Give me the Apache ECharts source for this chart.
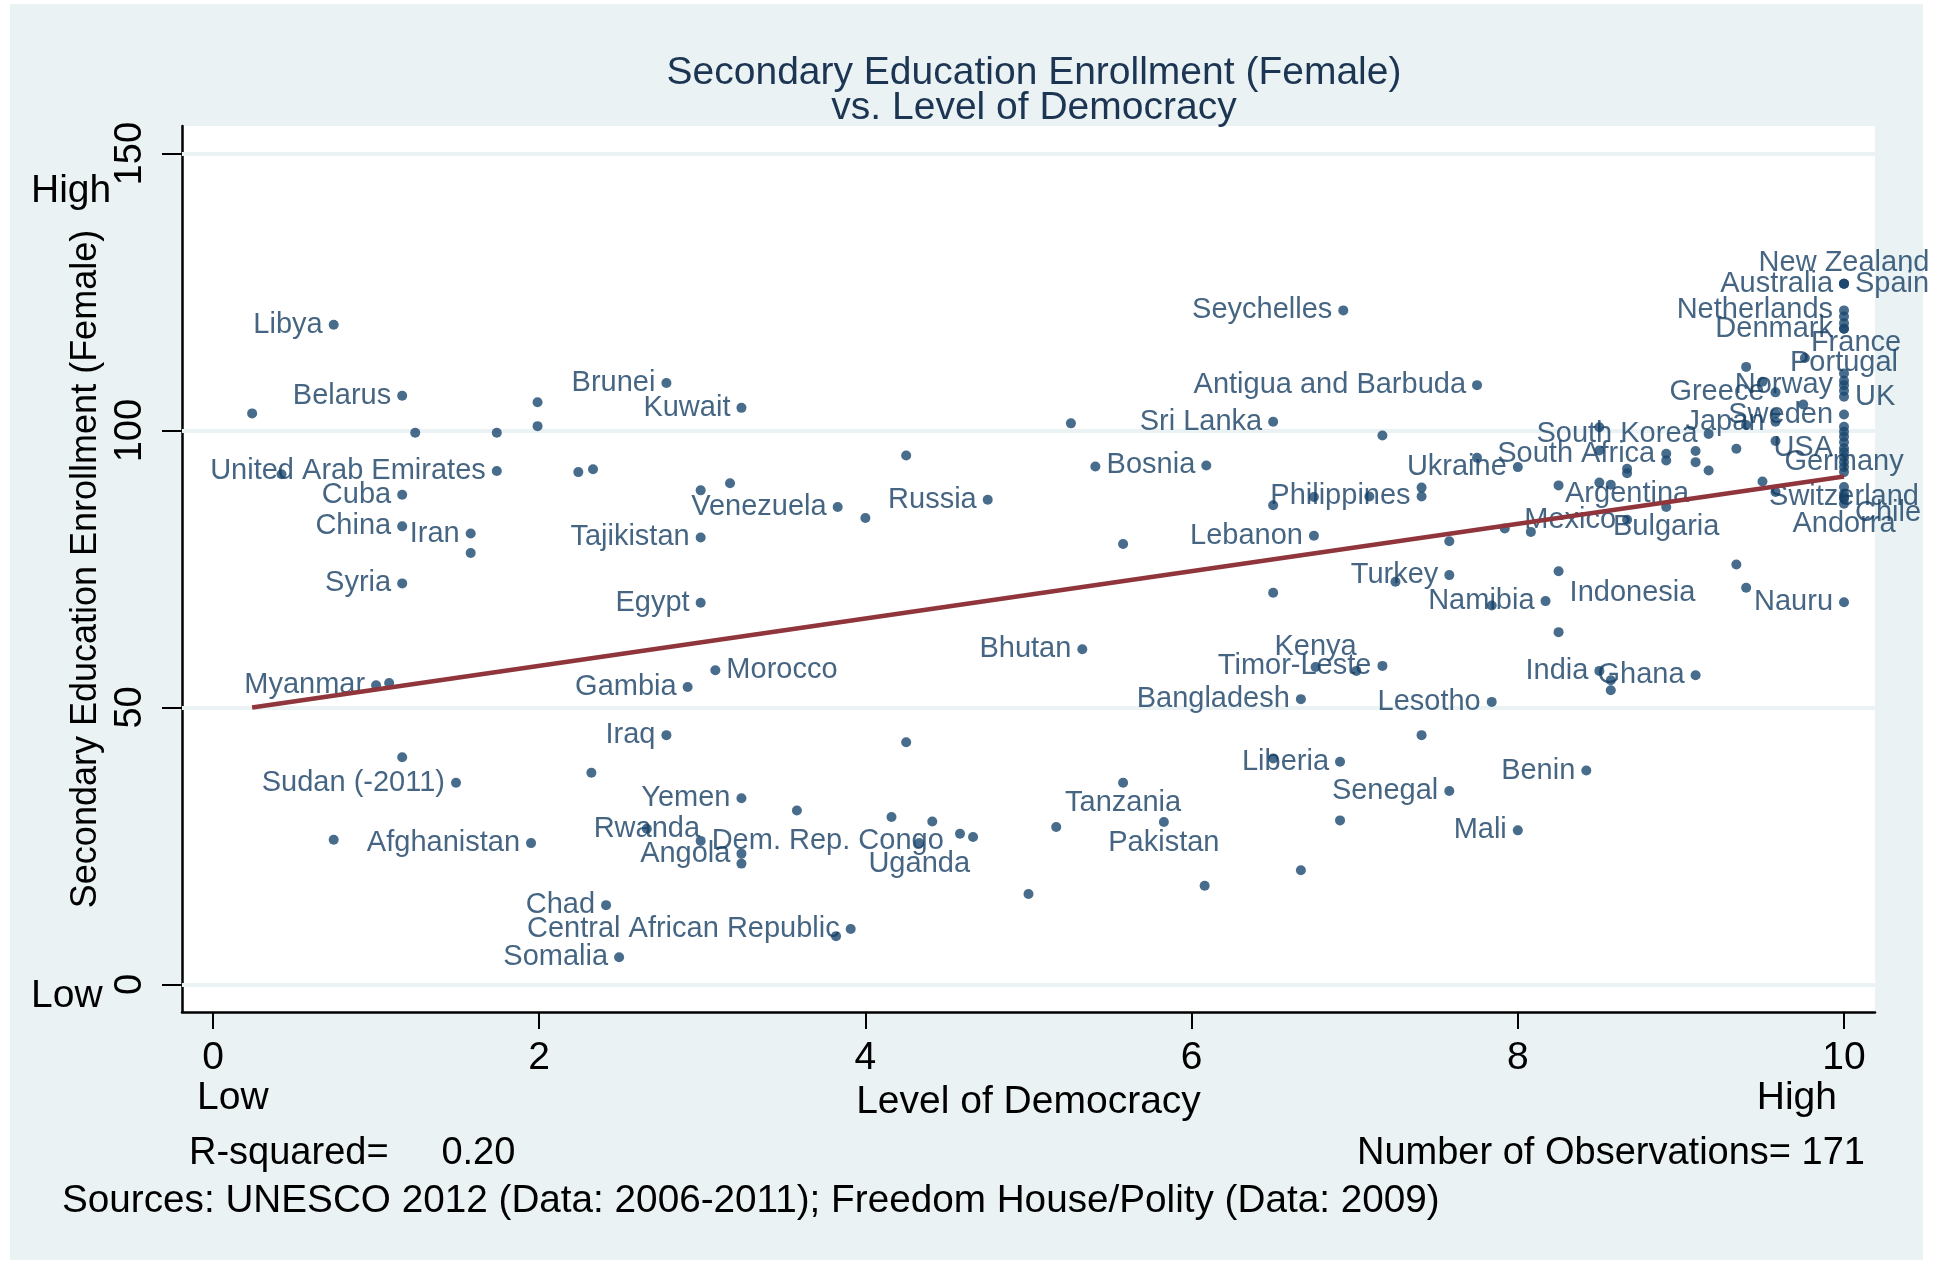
<!DOCTYPE html>
<html>
<head>
    <meta charset="utf-8" />
    <title>Secondary Education Enrollment vs Democracy</title>
    <script src="https://cdn.jsdelivr.net/npm/echarts@6/dist/echarts.min.js"></script>
    <style>
        body { margin: 0; background: #ffffff; }
        #main { width: 1933px; height: 1263px; }
    </style>
</head>
<body>
    <div id="main"></div>
    <script type="text/javascript">
        // countries ('' = unlabelled marker)
        var country = [
            '', '', 'Libya', 'Belarus', '', '', '', '', 'Brunei', 'Kuwait',
            'United Arab Emirates', '', '', 'Cuba', '', '', 'China', 'Iran', '', 'Tajikistan',
            'Syria', 'Egypt', 'Myanmar', '', 'Gambia', 'Morocco', 'Iraq', '', 'Sudan (-2011)', '',
            '', 'Afghanistan', 'Yemen', 'Rwanda', 'Dem. Rep. Congo', 'Angola', '', 'Chad', 'Somalia', 'Venezuela',
            '', 'Russia', '', '', '', 'Central African Republic', '', '', '', '',
            '', '', '', 'Uganda', '', '', 'Tanzania', 'Bhutan', '', 'Pakistan',
            '', '', '', 'Seychelles', 'Antigua and Barbuda', 'Sri Lanka', '', 'Bosnia', '', 'Ukraine',
            '', 'Philippines', '', '', '', 'Lebanon', '', '', '', 'Turkey',
            '', '', 'Namibia', '', 'Indonesia', '', 'Kenya', '', 'Timor-Leste', 'Bangladesh',
            'Lesotho', '', '', 'Liberia', 'Benin', 'Senegal', 'Mali', 'India', '', '',
            'Ghana', '', '', '', 'Argentina', 'South Africa', '', '', '', '',
            'South Korea', '', '', '', '', '', '', '', 'Bulgaria', 'Mexico',
            '', '', 'Nauru', '', '', 'Japan', 'Greece', '', '', '',
            '', 'Australia', 'New Zealand', 'Spain', 'Netherlands', '', '', 'Denmark', 'France', 'Portugal',
            '', 'Norway', '', 'UK', 'Sweden', '', '', '', '', 'USA',
            '', '', 'Germany', '', '', '', '', 'Switzerland', 'Chile', 'Andorra'
        ];
        // Level of Democracy (0-10)
        var democracy = [
            0.24, 0.42, 0.74, 1.16, 1.24, 1.74, 1.99, 1.99, 2.78, 3.24,
            1.74, 2.24, 2.33, 1.16, 2.99, 3.17, 1.16, 1.58, 1.58, 2.99,
            1.16, 2.99, 1.00, 1.08, 2.91, 3.08, 2.78, 1.16, 1.49, 2.32,
            0.74, 1.95, 3.24, 2.66, 2.99, 3.24, 3.24, 2.41, 2.49, 3.83,
            4.00, 4.75, 4.25, 5.26, 5.41, 3.91, 3.82, 4.25, 3.58, 4.16,
            4.41, 4.58, 4.66, 4.33, 5.17, 5.00, 5.58, 5.33, 5.58, 5.83,
            6.08, 6.67, 6.91, 6.93, 7.75, 6.50, 7.17, 6.09, 7.75, 8.00,
            7.41, 7.41, 6.75, 7.09, 6.50, 6.75, 7.58, 7.92, 8.08, 7.58,
            7.25, 6.50, 8.17, 7.84, 8.25, 8.25, 6.76, 7.01, 7.17, 6.67,
            7.84, 7.41, 6.50, 6.91, 8.42, 7.58, 8.00, 8.50, 8.57, 8.57,
            9.09, 8.50, 8.50, 8.67, 8.67, 8.91, 8.91, 9.09, 9.09, 9.17,
            9.17, 9.34, 9.58, 8.25, 8.50, 8.57, 9.50, 9.58, 8.91, 8.67,
            9.34, 9.40, 10, 9.75, 9.58, 9.58, 9.58, 9.40, 9.50, 9.76,
            9.40, 10, 10, 10, 10, 10, 10, 10, 10, 10,
            10, 10, 10, 10, 10, 10, 10, 10, 10, 10,
            10, 10, 10, 10, 10, 10, 10, 10, 10, 10
        ];
        // Secondary Education Enrollment (Female)
        var enrollment = [
            103.1, 92.1, 119.1, 106.3, 99.6, 99.6, 105.1, 100.8, 108.6, 104.1,
            92.7, 92.5, 93.0, 88.4, 89.2, 90.5, 82.7, 81.4, 77.9, 80.7,
            72.4, 68.9, 54.0, 54.4, 53.7, 56.7, 45.0, 41.0, 36.4, 38.2,
            26.1, 25.5, 33.6, 28.1, 25.9, 23.6, 21.8, 14.3, 4.9, 86.2,
            84.2, 87.5, 95.5, 101.3, 93.5, 10.0, 8.7, 43.7, 31.4, 30.2,
            29.4, 27.2, 26.6, 25.5, 28.4, 16.3, 36.4, 60.5, 79.5, 29.3,
            17.8, 20.6, 29.6, 121.7, 108.2, 101.6, 99.1, 93.7, 95.1, 93.4,
            89.7, 88.1, 88.0, 88.1, 86.5, 81.0, 80.0, 82.3, 81.7, 73.9,
            72.7, 70.7, 69.2, 68.4, 74.6, 63.6, 57.3, 56.6, 57.5, 51.5,
            51.0, 45.0, 40.8, 40.2, 38.6, 34.9, 27.8, 56.6, 54.9, 53.1,
            55.8, 100.6, 96.4, 93.1, 92.3, 95.8, 94.6, 96.3, 94.3, 92.8,
            99.4, 96.7, 98.1, 90.1, 90.6, 90.2, 90.8, 88.9, 86.2, 83.9,
            75.8, 71.6, 69.0, 104.7, 103.1, 101.6, 106.9, 111.5, 108.8, 113.1,
            101.0, 126.5, 126.5, 126.5, 121.7, 120.6, 119.4, 118.4, 118.4, 110.3,
            109.0, 108.2, 107.2, 106.1, 102.9, 100.7, 99.8, 98.9, 97.9, 96.8,
            96.1, 95.2, 94.3, 93.4, 92.5, 89.8, 88.6, 88.0, 87.7, 86.8
        ];
        // linear fit, read at its two ends
        var fitX = [0.24, 10];
        var fitY = [50.0, 91.7];

        var xTicks = [0, 2, 4, 6, 8, 10];
        var yTicks = [0, 50, 100, 150];

        // labels that are not placed left of their marker
        var labelPlace = {
            'Morocco': ['right'], 'Rwanda': ['inside'], 'Dem. Rep. Congo': ['right'],
            'Uganda': ['bottom'], 'Tanzania': ['bottom'], 'Pakistan': ['bottom'],
            'Kenya': ['top'], 'Indonesia': ['right', [0, 22]], 'Argentina': ['bottom'],
            'Bulgaria': ['bottom'], 'New Zealand': ['top'], 'Spain': ['right'],
            'France': ['bottom', [12, -6]], 'Portugal': ['top', [0, 10]], 'UK': ['right'],
            'Germany': ['inside'], 'Switzerland': ['inside'], 'Chile': ['right', [0, 14]],
            'Andorra': ['bottom']
        };

        var navy = '#1A476F';
        var font = '"Liberation Sans", Arial, sans-serif';

        var points = [];
        for (var i = 0; i < country.length; i++) {
            var place = labelPlace[country[i]] || ['left'];
            points.push({
                name: country[i],
                value: [democracy[i], enrollment[i]],
                label: {
                    show: country[i] !== '',
                    position: place[0],
                    offset: place[1] || [0, 0],
                    distance: (place[0] === 'left' || place[0] === 'right') ? 6 : 1
                }
            });
        }

        var fitData = [];
        for (var j = 0; j < fitX.length; j++) {
            fitData.push([fitX[j], fitY[j]]);
        }

        var gridLines = [];
        for (var k = 0; k < yTicks.length; k++) {
            gridLines.push({ yAxis: yTicks[k] });
        }

        var myChart = echarts.init(document.getElementById('main'));
        var option = {
            animation: false,
            backgroundColor: '#ffffff',
            textStyle: { fontFamily: font },
            title: {
                text: 'Secondary Education Enrollment (Female)\nvs. Level of Democracy',
                left: 1029,
                top: 51,
                textAlign: 'center',
                textStyle: {
                    fontFamily: font,
                    fontSize: 39,
                    fontWeight: 'normal',
                    color: '#1C3553',
                    lineHeight: 35
                }
            },
            grid: {
                left: 182,
                top: 126,
                right: 58,
                bottom: 251,
                show: true,
                backgroundColor: '#ffffff',
                borderWidth: 0
            },
            graphic: [
                { type: 'rect', z: -10, shape: { x: 10, y: 4, width: 1913, height: 1256 }, style: { fill: '#EAF2F3' } },
                { type: 'text', x: 31, y: 191, style: { text: 'High', font: '39px ' + font, fill: '#000', verticalAlign: 'middle' } },
                { type: 'text', x: 31, y: 996, style: { text: 'Low', font: '39px ' + font, fill: '#000', verticalAlign: 'middle' } },
                { type: 'text', x: 197, y: 1098, style: { text: 'Low', font: '39px ' + font, fill: '#000', verticalAlign: 'middle' } },
                { type: 'text', x: 1837, y: 1098, style: { text: 'High', font: '39px ' + font, fill: '#000', align: 'right', verticalAlign: 'middle' } },
                { type: 'text', x: 189, y: 1154, style: { text: 'R-squared=     0.20', font: '38px ' + font, fill: '#000', verticalAlign: 'middle' } },
                { type: 'text', x: 1865, y: 1154, style: { text: 'Number of Observations= 171', font: '38px ' + font, fill: '#000', align: 'right', verticalAlign: 'middle' } },
                { type: 'text', x: 62, y: 1201, style: { text: 'Sources: UNESCO 2012 (Data: 2006-2011); Freedom House/Polity (Data: 2009)', font: '38.7px ' + font, fill: '#000', verticalAlign: 'middle' } }
            ],
            xAxis: {
                type: 'value',
                min: -0.19,
                max: 10.19,
                name: 'Level of Democracy',
                nameLocation: 'middle',
                nameGap: 68,
                nameTextStyle: { fontSize: 39, color: '#000', fontFamily: font },
                axisLine: { onZero: false, lineStyle: { color: '#000', width: 2.5 } },
                axisTick: { show: true, customValues: xTicks, length: 17, lineStyle: { color: '#000', width: 2 } },
                axisLabel: { customValues: xTicks, margin: 27, fontSize: 39, color: '#000', fontFamily: font },
                splitLine: { show: false }
            },
            yAxis: {
                type: 'value',
                min: -5,
                max: 155,
                name: 'Secondary Education Enrollment (Female)',
                nameLocation: 'middle',
                nameRotate: 90,
                nameGap: 77,
                nameTextStyle: { fontSize: 36, color: '#000', fontFamily: font },
                axisLine: { onZero: false, lineStyle: { color: '#000', width: 2.5 } },
                axisTick: { show: true, customValues: yTicks, length: 20, lineStyle: { color: '#000', width: 2 } },
                axisLabel: { customValues: yTicks, rotate: 90, margin: 32, fontSize: 38, color: '#000', fontFamily: font },
                splitLine: { show: false }
            },
            series: [
                {
                    type: 'scatter',
                    symbol: 'circle',
                    symbolSize: 10,
                    z: 3,
                    itemStyle: { color: navy },
                    label: {
                        formatter: '{b}',
                        fontSize: 29,
                        color: '#173F63',
                        fontFamily: font
                    },
                    markLine: {
                        silent: true,
                        z: 1,
                        symbol: 'none',
                        label: { show: false },
                        lineStyle: { color: '#EAF2F3', width: 4, type: 'solid' },
                        data: gridLines
                    },
                    data: points
                },
                {
                    type: 'line',
                    z: 4,
                    silent: true,
                    showSymbol: false,
                    lineStyle: { color: '#90353B', width: 4.5 },
                    data: fitData
                }
            ]
        };
        myChart.setOption(option);
    </script>
</body>
</html>
